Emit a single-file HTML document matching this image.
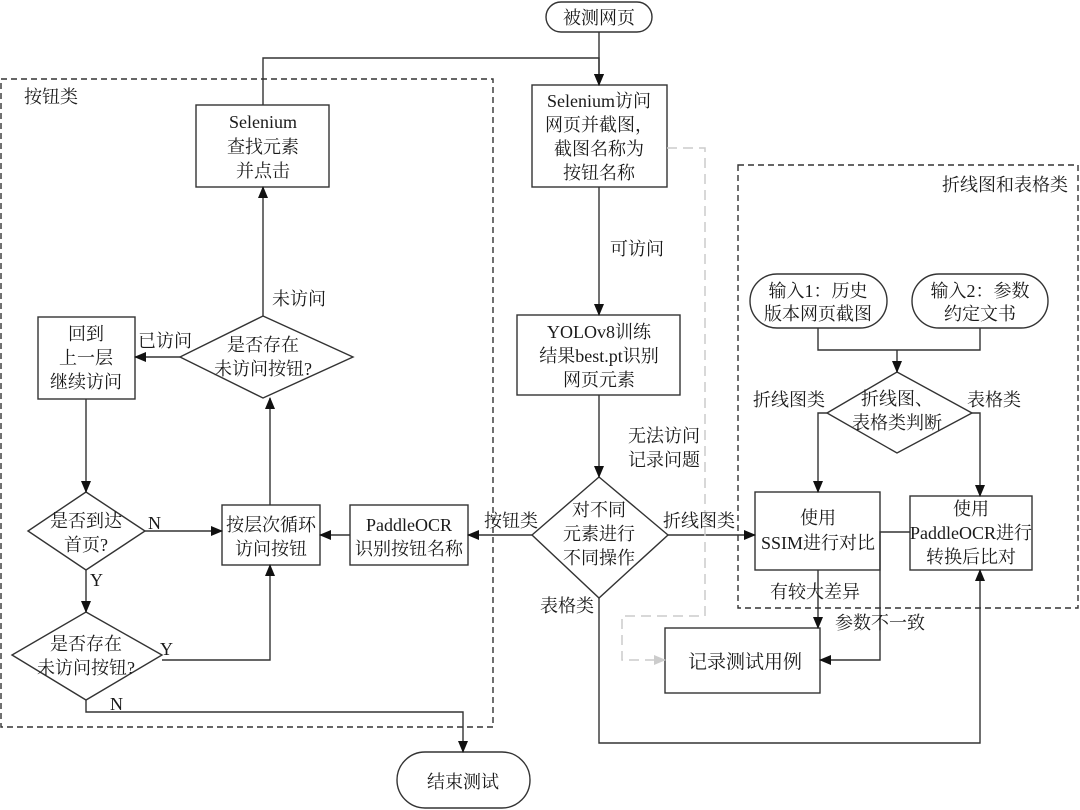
<!DOCTYPE html>
<html><head><meta charset="utf-8"><style>
html,body{margin:0;padding:0;background:#fff;}
svg{display:block;}
text{font-family:"Liberation Serif","Noto Serif CJK SC",serif;font-size:18px;fill:#1a1a1a;}
</style></head><body>
<svg width="1080" height="810" viewBox="0 0 1080 810" xmlns="http://www.w3.org/2000/svg">
<defs>
<marker id="a" markerWidth="12" markerHeight="12" refX="11" refY="5" orient="auto" markerUnits="userSpaceOnUse"><path d="M0,0 L12,5 L0,10 z" fill="#111"/></marker>
<marker id="g" markerWidth="12" markerHeight="12" refX="11" refY="5" orient="auto" markerUnits="userSpaceOnUse"><path d="M0,0 L12,5 L0,10 z" fill="#ccc"/></marker>
</defs>
<g fill="none" stroke="#333" stroke-width="1.4">
<rect x="1" y="79" width="492" height="648" stroke-dasharray="6,4"/>
<rect x="738" y="165" width="340" height="443" stroke-dasharray="6,4"/>
<rect x="546" y="2" width="106" height="30" rx="15"/>
<rect x="196" y="105" width="133" height="82"/>
<rect x="532" y="85" width="135" height="102"/>
<rect x="517" y="315" width="163" height="80"/>
<polygon points="599,477 668,535 599,598 532,535"/>
<rect x="350" y="505" width="118" height="60"/>
<rect x="222" y="505" width="98" height="60"/>
<rect x="755" y="492" width="125" height="78"/>
<rect x="910" y="496" width="122" height="74"/>
<rect x="665" y="628" width="155" height="65"/>
<rect x="750" y="274" width="137" height="54" rx="27"/>
<rect x="912" y="274" width="136" height="54" rx="27"/>
<polygon points="897,372 972,413 897,453 827,413"/>
<polygon points="263,316 353,357 263,398 180,357"/>
<rect x="38" y="317" width="97" height="82"/>
<polygon points="86,492 145,531 86,570 28,531"/>
<polygon points="86,612 162,655 86,700 12,655"/>
<rect x="397" y="752" width="133" height="56" rx="28"/>
<polyline points="263,105 263,58 599,58 599,85" marker-end="url(#a)"/>
<line x1="599" y1="32" x2="599" y2="85" marker-end="url(#a)"/>
<line x1="599" y1="187" x2="599" y2="315" marker-end="url(#a)"/>
<line x1="599" y1="395" x2="599" y2="477" marker-end="url(#a)"/>
<line x1="532" y1="535" x2="468" y2="535" marker-end="url(#a)"/>
<line x1="350" y1="535" x2="320" y2="535" marker-end="url(#a)"/>
<line x1="668" y1="535" x2="755" y2="535" marker-end="url(#a)"/>
<polyline points="599,598 599,743 980,743 980,570" marker-end="url(#a)"/>
<line x1="818" y1="570" x2="818" y2="628" marker-end="url(#a)"/>
<polyline points="910,532 880,532 880,660 820,660" marker-end="url(#a)"/>
<polyline points="818,328 818,350 980,350 980,328"/>
<line x1="897" y1="350" x2="897" y2="372" marker-end="url(#a)"/>
<polyline points="827,413 818,413 818,492" marker-end="url(#a)"/>
<polyline points="972,413 980,413 980,496" marker-end="url(#a)"/>
<line x1="263" y1="316" x2="263" y2="187" marker-end="url(#a)"/>
<line x1="180" y1="357" x2="135" y2="357" marker-end="url(#a)"/>
<line x1="86" y1="399" x2="86" y2="492" marker-end="url(#a)"/>
<line x1="145" y1="531" x2="222" y2="531" marker-end="url(#a)"/>
<line x1="86" y1="570" x2="86" y2="612" marker-end="url(#a)"/>
<polyline points="162,660 270,660 270,565" marker-end="url(#a)"/>
<line x1="270" y1="505" x2="270" y2="398" marker-end="url(#a)"/>
<polyline points="86,700 86,712 463,712 463,752" marker-end="url(#a)"/>
</g>
<polyline points="667,148 705,148 705,616 622,616 622,660 665,660" fill="none" stroke="#ccc" stroke-width="1.5" stroke-dasharray="10,6" marker-end="url(#g)"/>
<g text-anchor="middle">
<text x="599" y="24">被测网页</text>
<text x="263" y="128">Selenium</text><text x="263" y="153">查找元素</text><text x="263" y="177">并点击</text>
<text x="599" y="107">Selenium访问</text><text x="599" y="131">网页并截图，</text><text x="599" y="155">截图名称为</text><text x="599" y="179">按钮名称</text>
<text x="599" y="338">YOLOv8训练</text><text x="599" y="362">结果best.pt识别</text><text x="599" y="386">网页元素</text>
<text x="599" y="516">对不同</text><text x="599" y="540">元素进行</text><text x="599" y="564">不同操作</text>
<text x="409" y="531">PaddleOCR</text><text x="409" y="555">识别按钮名称</text>
<text x="271" y="531">按层次循环</text><text x="271" y="555">访问按钮</text>
<text x="818" y="524">使用</text><text x="818" y="549">SSIM进行对比</text>
<text x="971" y="515">使用</text><text x="971" y="539">PaddleOCR进行</text><text x="971" y="563">转换后比对</text>
<text x="745" y="668" style="font-size:19px">记录测试用例</text>
<text x="818" y="297">输入1：历史</text><text x="818" y="320">版本网页截图</text>
<text x="980" y="297">输入2：参数</text><text x="980" y="320">约定文书</text>
<text x="897" y="405">折线图、</text><text x="897" y="429">表格类判断</text>
<text x="263" y="351">是否存在</text><text x="263" y="375">未访问按钮?</text>
<text x="86" y="340">回到</text><text x="86" y="364">上一层</text><text x="86" y="388">继续访问</text>
<text x="86" y="527">是否到达</text><text x="86" y="551">首页?</text>
<text x="86" y="650">是否存在</text><text x="86" y="674">未访问按钮?</text>
<text x="463" y="788">结束测试</text>
</g>
<text x="24" y="103">按钮类</text>
<text x="942" y="191">折线图和表格类</text>
<text x="610" y="255">可访问</text>
<text x="628" y="442">无法访问</text><text x="628" y="466">记录问题</text>
<text x="484" y="527">按钮类</text>
<text x="663" y="527">折线图类</text>
<text x="540" y="612">表格类</text>
<text x="770" y="598">有较大差异</text>
<text x="835" y="629">参数不一致</text>
<text x="753" y="406">折线图类</text>
<text x="967" y="406">表格类</text>
<text x="272" y="305">未访问</text>
<text x="138" y="347">已访问</text>
<text x="148" y="529">N</text>
<text x="90" y="586">Y</text>
<text x="160" y="655">Y</text>
<text x="110" y="710">N</text>
</svg>
</body></html>
